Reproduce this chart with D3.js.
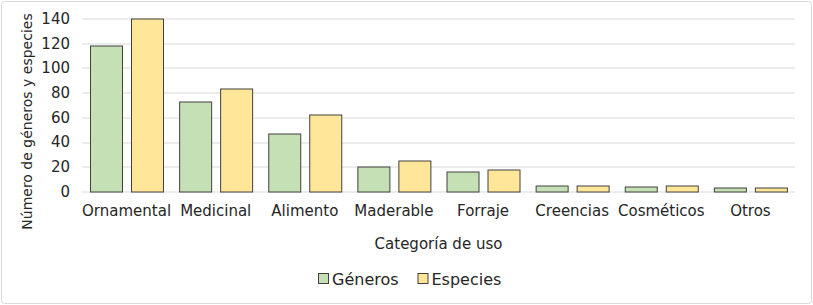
<!DOCTYPE html>
<html>
<head>
<meta charset="utf-8">
<script src="https://cdn.jsdelivr.net/npm/d3@7"></script>
<style>
  body { margin: 0; background: #fff; }
  svg text { font-family: "DejaVu Sans", Verdana, sans-serif; fill: #262626; }
</style>
</head>
<body>
<svg id="chart"></svg>
<script>
// Chart data
const categories = ["Ornamental", "Medicinal", "Alimento", "Maderable", "Forraje", "Creencias", "Cosméticos", "Otros"];
const generos = [118, 73, 47, 20, 16, 5, 4, 3];
const especies = [140, 83, 62, 25, 18, 5, 5, 3];
const seriesNames = ["Géneros", "Especies"];
const yTicks = [0, 20, 40, 60, 80, 100, 120, 140];

const colors = {"Géneros": "#c5e0b4", "Especies": "#ffe699"};

const width = 813, height = 305;
const margin = {top: 18.5, right: 18, bottom: 113.5, left: 82};
const innerW = width - margin.left - margin.right;
const innerH = height - margin.top - margin.bottom;

const svg = d3.select('#chart')
    .attr('width', width)
    .attr('height', height);

// outer frame
svg.append('rect')
    .attr('x', 1.5).attr('y', 1.5)
    .attr('width', width - 3).attr('height', height - 3)
    .attr('rx', 3)
    .attr('fill', '#fff')
    .attr('stroke', '#d9d9d9')
    .attr('stroke-width', 1);

const chart = svg.append('g')
    .attr('transform', `translate(${margin.left},${margin.top})`);

const xScale = d3.scaleBand()
    .domain(categories)
    .range([0, innerW])
    .paddingInner(0)
    .paddingOuter(0);

const xSub = d3.scaleBand()
    .domain(seriesNames)
    .range([8, xScale.bandwidth() - 8])
    .paddingInner(0.22);

const yScale = d3.scaleLinear()
    .domain([0, 140])
    .range([innerH, 0]);

// gridlines
chart.append('g')
  .selectAll('line')
    .data(yTicks)
  .join('line')
    .attr('x1', 0)
    .attr('x2', innerW)
    .attr('y1', d => Math.round(yScale(d)) + 0.5)
    .attr('y2', d => Math.round(yScale(d)) + 0.5)
    .attr('stroke', '#d9d9d9')
    .attr('stroke-width', 1);

// y axis labels
const yAxis = d3.axisLeft(yScale)
    .tickValues(yTicks)
    .tickSize(0)
    .tickPadding(12);
const yAxisG = chart.append('g').call(yAxis);
yAxisG.select('.domain').remove();
yAxisG.selectAll('text')
    .attr('font-size', 15)
    .attr('font-family', '"DejaVu Sans", Verdana, sans-serif')
    .attr('fill', '#262626');

// bars
const data = categories.map((c, i) => ({cat: c, values: [
  {key: "Géneros", value: generos[i]},
  {key: "Especies", value: especies[i]}
]}));

const groups = chart.append('g')
  .selectAll('g')
    .data(data)
  .join('g')
    .attr('transform', d => `translate(${xScale(d.cat)},0)`);

groups.selectAll('rect')
    .data(d => d.values)
  .join('rect')
    .attr('x', d => Math.round(xSub(d.key)) + 0.5)
    .attr('y', d => Math.round(yScale(d.value)) + 0.5)
    .attr('width', Math.round(xSub.bandwidth()))
    .attr('height', d => Math.round(yScale(0)) - Math.round(yScale(d.value)))
    .attr('fill', d => colors[d.key])
    .attr('stroke', '#404040')
    .attr('stroke-width', 1);

// x axis labels
const xAxis = d3.axisBottom(xScale).tickSize(0).tickPadding(14);
const xAxisG = chart.append('g')
    .attr('transform', `translate(0,${innerH})`)
    .call(xAxis);
xAxisG.select('.domain').remove();
xAxisG.selectAll('text')
    .attr('font-size', 15)
    .attr('font-family', '"DejaVu Sans", Verdana, sans-serif')
    .attr('fill', '#262626');

// axis titles
svg.append('text')
    .attr('x', margin.left + innerW / 2)
    .attr('y', 248.5)
    .attr('text-anchor', 'middle')
    .attr('font-size', 15)
    .text('Categoría de uso');

svg.append('text')
    .attr('transform', 'translate(32,121.5) rotate(-90)')
    .attr('text-anchor', 'middle')
    .attr('font-size', 14)
    .text('Número de géneros y especies');

// legend
const legend = svg.append('g')
    .attr('transform', 'translate(318,0)');
const legendItems = legend.selectAll('g')
    .data(seriesNames)
  .join('g')
    .attr('transform', (d, i) => `translate(${i * 99.5},0)`);
legendItems.append('rect')
    .attr('x', 0.5).attr('y', 273.5)
    .attr('width', 10).attr('height', 10)
    .attr('fill', d => colors[d])
    .attr('stroke', '#404040')
    .attr('stroke-width', 1);
legendItems.append('text')
    .attr('x', 14)
    .attr('y', 285)
    .attr('font-size', 16)
    .text(d => d);
</script>
</body>
</html>
